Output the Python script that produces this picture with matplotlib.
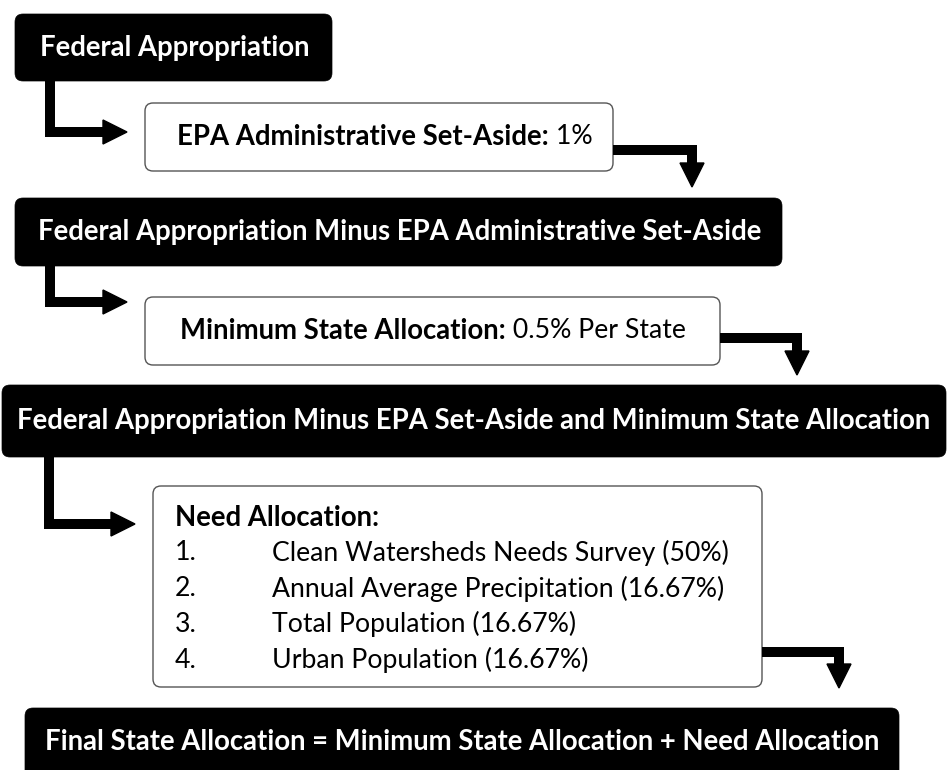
import matplotlib
matplotlib.use("Agg")
import matplotlib.pyplot as plt
from matplotlib.patches import FancyBboxPatch, Polygon

plt.rcParams['font.family'] = ['Lato', 'DejaVu Sans']

# ---- content ----
title_top = "Federal Appropriation"
epa_label = "EPA Administrative Set-Aside:"
epa_pct = 1
after_epa = "Federal Appropriation Minus EPA Administrative Set-Aside"
min_label = "Minimum State Allocation:"
min_pct = 0.5
after_min = "Federal Appropriation Minus EPA Set-Aside and Minimum State Allocation"
need_label = "Need Allocation:"
need_items = ["Clean Watersheds Needs Survey", "Annual Average Precipitation",
              "Total Population", "Urban Population"]
need_pct = ["50%", "16.67%", "16.67%", "16.67%"]
final_text = "Final State Allocation = Minimum State Allocation + Need Allocation"

W, H = 948, 770
fig = plt.figure(figsize=(W / 100, H / 100), dpi=100)
ax = fig.add_axes([0, 0, 1, 1])
ax.set_xlim(0, W)
ax.set_ylim(H, 0)
ax.axis('off')

FSB = 19.8
FSN = 19.2


def box(x0, y0, x1, y1, dark):
    p = FancyBboxPatch((x0, y0), x1 - x0, y1 - y0,
                       boxstyle="round,pad=0,rounding_size=8",
                       fc='black' if dark else 'white',
                       ec='black' if dark else '#555555',
                       lw=1.0 if not dark else 0.5, zorder=2)
    ax.add_patch(p)


def elbow_right(x, y0, y1, xtip):
    ax.plot([x, x, xtip - 22], [y0, y1, y1], color='black', lw=7.2,
            solid_joinstyle='miter', solid_capstyle='butt', zorder=3)
    ax.add_patch(Polygon([[xtip - 24, y1 - 12], [xtip, y1], [xtip - 24, y1 + 12]],
                         closed=True, fc='black', ec='black', zorder=3))


def elbow_down(x0, y, x1, ytip):
    ax.plot([x0, x1, x1], [y, y, ytip - 22], color='black', lw=7.2,
            solid_joinstyle='miter', solid_capstyle='butt', zorder=3)
    ax.add_patch(Polygon([[x1 - 12, ytip - 24], [x1, ytip], [x1 + 12, ytip - 24]],
                         closed=True, fc='black', ec='black', zorder=3))


fig.canvas.draw()
renderer = fig.canvas.get_renderer()


def mixed(x, y, bold, normal):
    t = ax.text(x, y, bold, fontsize=FSB, fontweight='bold', va='center',
                ha='left', zorder=4)
    bb = t.get_window_extent(renderer=renderer)
    inv = ax.transData.inverted()
    xe = inv.transform((bb.x1, bb.y0))[0]
    ax.text(xe, y, " " + normal, fontsize=FSN, va='center', ha='left', zorder=4)


# Box 1
box(15, 14, 332, 81, True)
ax.text(40, 48, title_top, color='white', fontsize=FSB, fontweight='bold',
        va='center', ha='left', zorder=4)
elbow_right(50, 81, 132, 127)

# Box 2
box(145, 103, 613, 171, False)
mixed(177, 137, epa_label, f"{epa_pct}%")
elbow_down(613, 150, 692, 187)

# Box 3
box(15, 198, 782, 266, True)
ax.text(38, 232, after_epa, color='white', fontsize=FSB, fontweight='bold',
        va='center', ha='left', zorder=4)
elbow_right(50, 266, 302, 127)

# Box 4
box(145, 297, 720, 365, False)
mixed(180, 331, min_label, f"{min_pct}% Per State")
elbow_down(720, 338, 797, 375)

# Box 5
box(2, 385, 946, 457, True)
ax.text(474, 421, after_min, color='white', fontsize=FSB, fontweight='bold',
        va='center', ha='center', zorder=4)
elbow_right(49, 457, 524, 135)

# Box 6
box(153, 486, 762, 687, False)
ax.text(175, 518, need_label, fontsize=FSB, fontweight='bold', va='center',
        ha='left', zorder=4)
for i, (item, pct) in enumerate(zip(need_items, need_pct)):
    yy = 553 + i * 35.7
    ax.text(175, yy, f"{i + 1}.", fontsize=FSN, va='center', ha='left', zorder=4)
    ax.text(272, yy, f"{item} ({pct})", fontsize=FSN, va='center', ha='left', zorder=4)
elbow_down(762, 652, 839, 688)

# Box 7
box(25, 708, 899, 785, True)
ax.text(462, 742, final_text, color='white', fontsize=FSB, fontweight='bold',
        va='center', ha='center', zorder=4)

fig.savefig("out.png", dpi=100, facecolor='white')
